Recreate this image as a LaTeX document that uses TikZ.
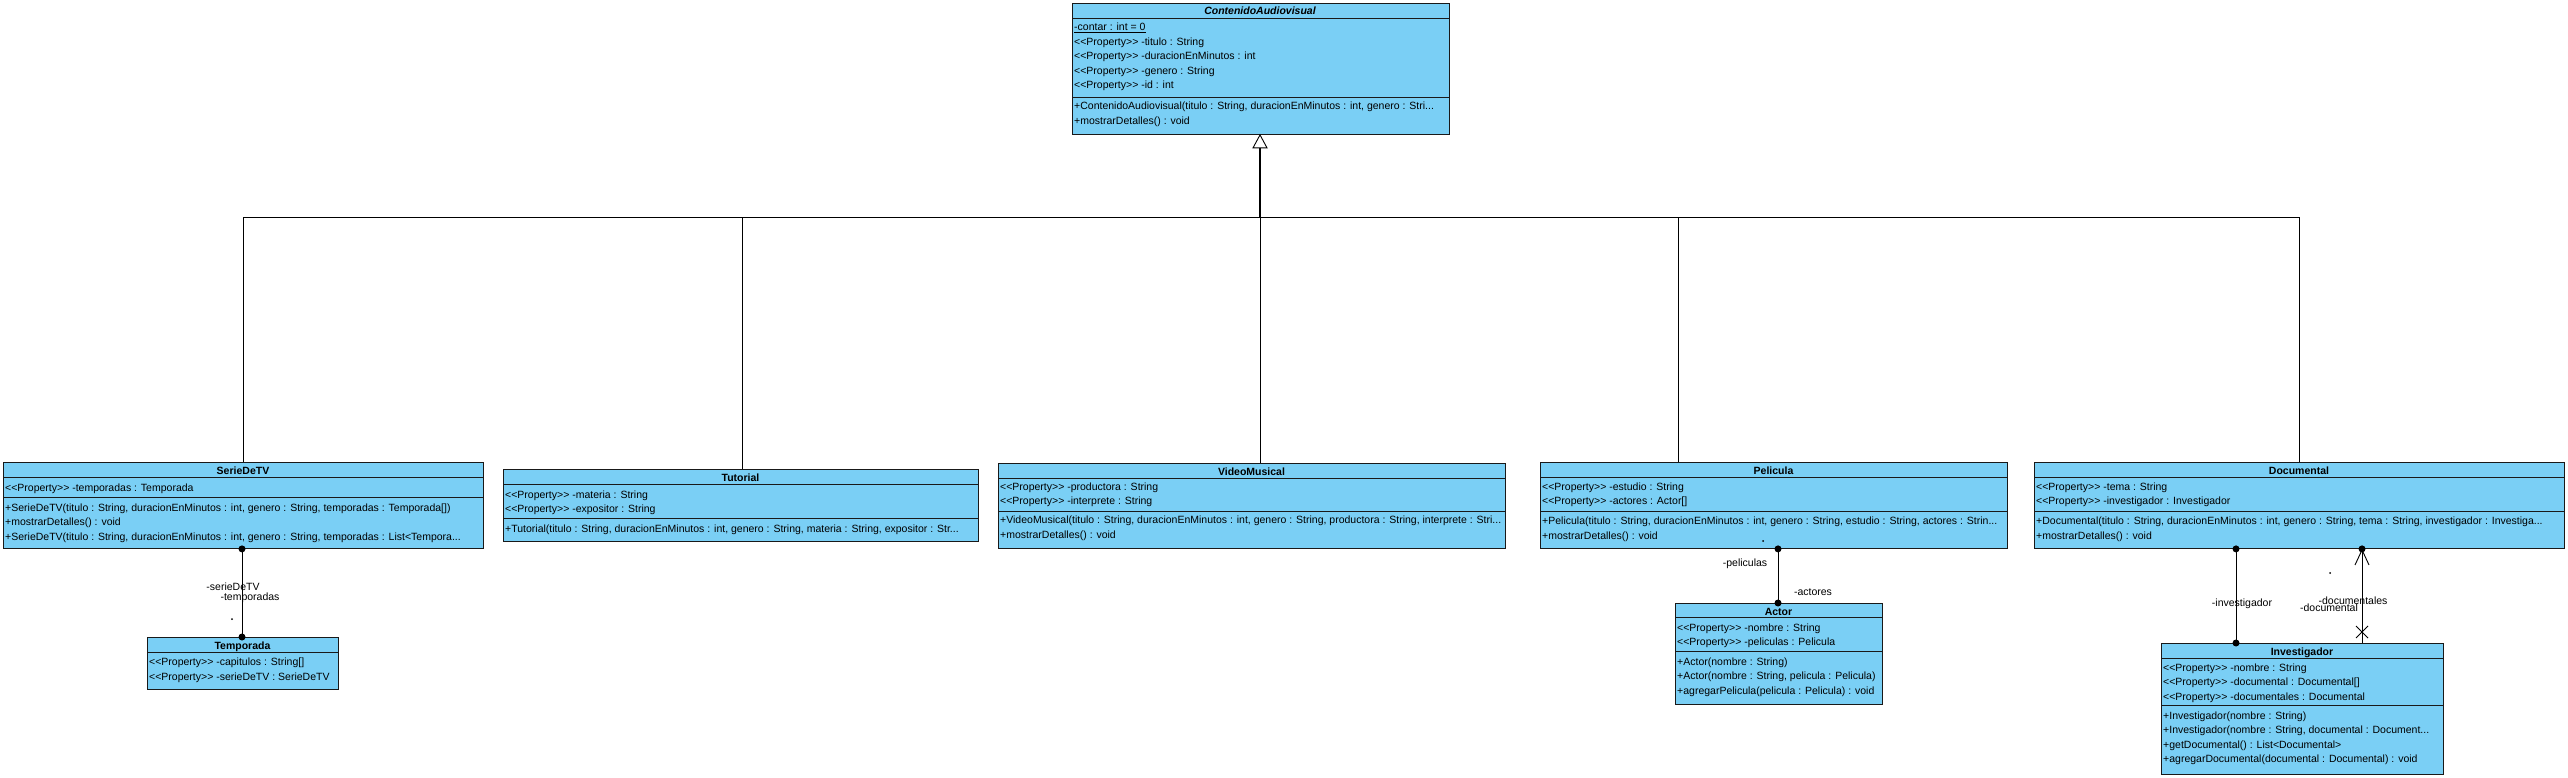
\documentclass[tikz,border=0pt]{standalone}
\usepackage{fontspec}
\setmainfont{Liberation Sans}
\usetikzlibrary{arrows.meta}
\definecolor{clsfill}{RGB}{122,207,245}
\definecolor{clsline}{RGB}{25,25,25}
\newcommand\pst{<\kern0pt<Property>\kern0pt>}
\begin{document}
\begin{tikzpicture}[x=1pt,y=-1pt,
  cbox/.style={draw=clsline,fill=clsfill,line width=0.9pt,inner sep=0pt,anchor=north west},
  hdr/.style={font=\fontsize{10.5}{12}\selectfont\bfseries,inner sep=0pt,anchor=base},
  row/.style={font=\fontsize{10.5}{12}\selectfont,inner sep=0pt,anchor=base west},
  lbl/.style={font=\fontsize{10.5}{12}\selectfont,inner sep=0pt,anchor=base},
  sepl/.style={draw=clsline,line width=0.9pt},
  conn/.style={draw=black,line width=0.9pt},
  dot/.style={fill=black}]
\useasboundingbox (0,0) rectangle (2568,778);

% ---------------- ContenidoAudiovisual
\node[cbox,minimum width=377pt,minimum height=131pt] (ca) at (1072,3) {};
\node[hdr,font=\fontsize{10.5}{12}\selectfont\bfseries\itshape] (ca-h) at (1260,15) {ContenidoAudiovisual};
\draw[sepl] (1072,18) -- (1449,18);
\node[row] (ca-a1) at (1074,31) {\underline{-contar : int = 0}};
\node[row] (ca-a2) at (1074,45.5) {\pst{} -titulo : String};
\node[row] (ca-a3) at (1074,60) {\pst{} -duracionEnMinutos : int};
\node[row] (ca-a4) at (1074,74.5) {\pst{} -genero : String};
\node[row] (ca-a5) at (1074,89) {\pst{} -id : int};
\draw[sepl] (1072,97) -- (1449,97);
\node[row] (ca-m1) at (1074,110) {+ContenidoAudiovisual(titulo : String, duracionEnMinutos : int, genero : Stri...};
\node[row] (ca-m2) at (1074,124.5) {+mostrarDetalles() : void};

% ---------------- SerieDeTV
\node[cbox,minimum width=480pt,minimum height=86pt] (ser) at (3,462) {};
\node[hdr] (ser-h) at (243,474) {SerieDeTV};
\draw[sepl] (3,477) -- (483,477);
\node[row] (ser-a1) at (5,491) {\pst{} -temporadas : Temporada};
\draw[sepl] (3,497) -- (483,497);
\node[row] (ser-m1) at (5,511) {+SerieDeTV(titulo : String, duracionEnMinutos : int, genero : String, temporadas : Temporada[])};
\node[row] (ser-m2) at (5,525.5) {+mostrarDetalles() : void};
\node[row] (ser-m3) at (5,540) {+SerieDeTV(titulo : String, duracionEnMinutos : int, genero : String, temporadas : List<Tempora...};

% ---------------- Tutorial
\node[cbox,minimum width=475pt,minimum height=72pt] (tut) at (503,469) {};
\node[hdr] (tut-h) at (740.5,481) {Tutorial};
\draw[sepl] (503,484) -- (978,484);
\node[row] (tut-a1) at (505,498) {\pst{} -materia : String};
\node[row] (tut-a2) at (505,512.5) {\pst{} -expositor : String};
\draw[sepl] (503,518.5) -- (978,518.5);
\node[row] (tut-m1) at (505,532.5) {+Tutorial(titulo : String, duracionEnMinutos : int, genero : String, materia : String, expositor : Str...};

% ---------------- VideoMusical
\node[cbox,minimum width=507pt,minimum height=85pt] (vid) at (998,463) {};
\node[hdr] (vid-h) at (1251.5,475) {VideoMusical};
\draw[sepl] (998,478) -- (1505,478);
\node[row] (vid-a1) at (1000,490) {\pst{} -productora : String};
\node[row] (vid-a2) at (1000,504.5) {\pst{} -interprete : String};
\draw[sepl] (998,511) -- (1505,511);
\node[row] (vid-m1) at (1000,523.5) {+VideoMusical(titulo : String, duracionEnMinutos : int, genero : String, productora : String, interprete : Stri...};
\node[row] (vid-m2) at (1000,538) {+mostrarDetalles() : void};

% ---------------- Pelicula
\node[cbox,minimum width=467pt,minimum height=86pt] (pel) at (1540,462) {};
\node[hdr] (pel-h) at (1773.5,474) {Pelicula};
\draw[sepl] (1540,477) -- (2007,477);
\node[row] (pel-a1) at (1542,490) {\pst{} -estudio : String};
\node[row] (pel-a2) at (1542,504.5) {\pst{} -actores : Actor[]};
\draw[sepl] (1540,511) -- (2007,511);
\node[row] (pel-m1) at (1542,524.5) {+Pelicula(titulo : String, duracionEnMinutos : int, genero : String, estudio : String, actores : Strin...};
\node[row] (pel-m2) at (1542,539) {+mostrarDetalles() : void};

% ---------------- Documental
\node[cbox,minimum width=530pt,minimum height=86pt] (doc) at (2034,462) {};
\node[hdr] (doc-h) at (2299,474) {Documental};
\draw[sepl] (2034,477) -- (2564,477);
\node[row] (doc-a1) at (2036,490) {\pst{} -tema : String};
\node[row] (doc-a2) at (2036,504.5) {\pst{} -investigador : Investigador};
\draw[sepl] (2034,511) -- (2564,511);
\node[row] (doc-m1) at (2036,524.5) {+Documental(titulo : String, duracionEnMinutos : int, genero : String, tema : String, investigador : Investiga...};
\node[row] (doc-m2) at (2036,539) {+mostrarDetalles() : void};

% ---------------- Temporada
\node[cbox,minimum width=191pt,minimum height=52pt] (tem) at (147,637) {};
\node[hdr] (tem-h) at (242.5,649) {Temporada};
\draw[sepl] (147,652) -- (338,652);
\node[row] (tem-a1) at (149,665.5) {\pst{} -capitulos : String[]};
\node[row] (tem-a2) at (149,680) {\pst{} -serieDeTV : SerieDeTV};

% ---------------- Actor
\node[cbox,minimum width=207pt,minimum height=101pt] (act) at (1675,603) {};
\node[hdr] (act-h) at (1778.5,615) {Actor};
\draw[sepl] (1675,617) -- (1882,617);
\node[row] (act-a1) at (1677,631) {\pst{} -nombre : String};
\node[row] (act-a2) at (1677,645.5) {\pst{} -peliculas : Pelicula};
\draw[sepl] (1675,651) -- (1882,651);
\node[row] (act-m1) at (1677,665) {+Actor(nombre : String)};
\node[row] (act-m2) at (1677,679.5) {+Actor(nombre : String, pelicula : Pelicula)};
\node[row] (act-m3) at (1677,694) {+agregarPelicula(pelicula : Pelicula) : void};

% ---------------- Investigador
\node[cbox,minimum width=282pt,minimum height=131pt] (inv) at (2161,643) {};
\node[hdr] (inv-h) at (2302,655) {Investigador};
\draw[sepl] (2161,658) -- (2443,658);
\node[row] (inv-a1) at (2163,671) {\pst{} -nombre : String};
\node[row] (inv-a2) at (2163,685.5) {\pst{} -documental : Documental[]};
\node[row] (inv-a3) at (2163,700) {\pst{} -documentales : Documental};
\draw[sepl] (2161,705.5) -- (2443,705.5);
\node[row] (inv-m1) at (2163,719) {+Investigador(nombre : String)};
\node[row] (inv-m2) at (2163,733.5) {+Investigador(nombre : String, documental : Document...};
\node[row] (inv-m3) at (2163,748) {+getDocumental() : List<Documental>};
\node[row] (inv-m4) at (2163,762.5) {+agregarDocumental(documental : Documental) : void};

% ---------------- Generalization tree
\coordinate (junc) at (1260,217);
\coordinate (tribase) at (1260,147);
\draw[conn] ([xshift=240pt]ser.north west) |- (junc);
\draw[conn] ([xshift=239pt]tut.north west) |- (junc);
\draw[conn] ([xshift=138pt]pel.north west) |- (junc);
\draw[conn] ([xshift=265pt]doc.north west) |- (junc);
\draw[conn] ([xshift=262pt]vid.north west) -- (junc);
\draw[conn,line width=1.6pt] (junc) -- (tribase);
\draw[conn,fill=white,line width=0.9pt] (ca.south -| tribase) -- ++(-7,13) -- ++(14,0) -- cycle;

% ---------------- Associations
% SerieDeTV - Temporada
\draw[conn] ([xshift=239pt]ser.south west) -- ([xshift=95pt]tem.north west);
\fill[dot] ([xshift=239pt]ser.south west) circle (3.5pt);
\fill[dot] ([xshift=95pt]tem.north west) circle (3.5pt);
\node[lbl] (l-ser) at (233,590) {-serieDeTV};
\node[lbl] (l-tem) at (250,600) {-temporadas};
\fill (232,619) circle (1pt);

% Pelicula - Actor
\draw[conn] ([xshift=238pt]pel.south west) -- ([xshift=103pt]act.north west);
\fill[dot] ([xshift=238pt]pel.south west) circle (3.5pt);
\fill[dot] ([xshift=103pt]act.north west) circle (3.5pt);
\node[lbl] (l-pel) at (1745,566) {-peliculas};
\node[lbl] (l-act) at (1813,595) {-actores};
\fill (1763,541) circle (1pt);

% Documental - Investigador (investigador)
\draw[conn] ([xshift=202pt]doc.south west) -- ([xshift=75pt]inv.north west);
\fill[dot] ([xshift=202pt]doc.south west) circle (3.5pt);
\fill[dot] ([xshift=75pt]inv.north west) circle (3.5pt);
\node[lbl] (l-inv) at (2242,606) {-investigador};

% Documental - Investigador (documentales, navigable)
\draw[conn,-{Straight Barb[length=15pt,width=14pt,line width=0.9pt]}] ([xshift=201pt]inv.north west) -- ([xshift=328pt]doc.south west);
\fill[dot] ([xshift=328pt]doc.south west) circle (3.5pt);
\coordinate (xmark) at (2362,632);
\draw[conn] ([shift={(-6,-6)}]xmark) -- ([shift={(6,6)}]xmark);
\draw[conn] ([shift={(-6,6)}]xmark) -- ([shift={(6,-6)}]xmark);
\node[lbl] (l-docs) at (2353,604) {-documentales};
\node[lbl] (l-doc) at (2329,611) {-documental};
\fill (2330,573) circle (1pt);
\end{tikzpicture}
\end{document}
